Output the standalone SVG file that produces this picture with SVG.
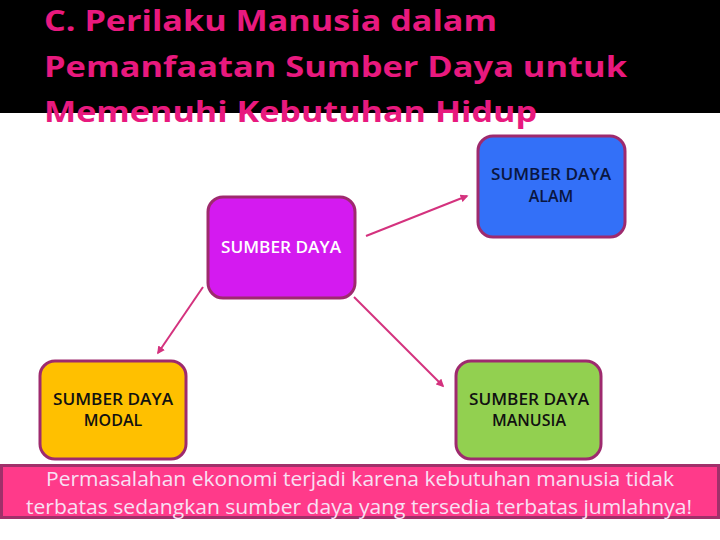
<svg xmlns="http://www.w3.org/2000/svg" width="720" height="540" viewBox="0 0 720 540">
<style>
.title{font-family:"Open Sans","Liberation Sans",sans-serif;font-weight:bold;font-size:29px;fill:#E8197E}
.node rect{stroke:#9E2A6E;stroke-width:3}
.lbl{font-family:"Open Sans","Liberation Sans",sans-serif;font-weight:600;font-size:16px;text-anchor:middle}
.conn line{stroke:#D4327E;stroke-width:2;marker-end:url(#ah)}
.band{font-family:"Open Sans","Liberation Sans",sans-serif;font-size:20px;fill:#F8E0F4;text-anchor:middle}
</style>
<defs>
<marker id="ah" viewBox="0 0 10 10" refX="8" refY="5" markerWidth="4" markerHeight="4" orient="auto">
<path d="M0,0 L10,5 L0,10 z" fill="#D4327E"/>
</marker>
</defs>
<rect x="0" y="0" width="720" height="540" fill="#FFFFFF"/>
<rect x="0" y="0" width="720" height="113" fill="#000000"/>
<g id="title">
<text class="title" x="44" y="31" textLength="453" lengthAdjust="spacingAndGlyphs">C. Perilaku Manusia dalam</text>
<text class="title" x="44" y="77" textLength="583" lengthAdjust="spacingAndGlyphs">Pemanfaatan Sumber Daya untuk</text>
<text class="title" x="44" y="122" textLength="493" lengthAdjust="spacingAndGlyphs">Memenuhi Kebutuhan Hidup</text>
</g>
<g id="connectors" class="conn">
<line x1="366" y1="236" x2="467" y2="196"/>
<line x1="203" y1="287" x2="158" y2="353"/>
<line x1="354" y1="297" x2="443" y2="386"/>
</g>
<g id="sumber-daya" class="node">
<rect x="208" y="197" width="147" height="101" rx="15" fill="#D41AF0"/>
<text class="lbl" x="281" y="253" fill="#FFFFFF" textLength="120" lengthAdjust="spacingAndGlyphs">SUMBER DAYA</text>
</g>
<g id="sda" class="node">
<rect x="478" y="136" width="147" height="101" rx="15" fill="#3370F8"/>
<text class="lbl" x="551" y="180" fill="#0A1640" textLength="120" lengthAdjust="spacingAndGlyphs">SUMBER DAYA</text>
<text class="lbl" x="551" y="202" fill="#0A1640">ALAM</text>
</g>
<g id="sdmodal" class="node">
<rect x="40" y="361" width="146" height="98" rx="15" fill="#FFC000"/>
<text class="lbl" x="113" y="405" fill="#111111" textLength="120" lengthAdjust="spacingAndGlyphs">SUMBER DAYA</text>
<text class="lbl" x="113" y="426" fill="#111111">MODAL</text>
</g>
<g id="sdm" class="node">
<rect x="456" y="361" width="145" height="98" rx="15" fill="#92D050"/>
<text class="lbl" x="529" y="405" fill="#111111" textLength="120" lengthAdjust="spacingAndGlyphs">SUMBER DAYA</text>
<text class="lbl" x="529" y="426" fill="#111111">MANUSIA</text>
</g>
<g id="note">
<rect x="1.5" y="465.5" width="717" height="52" fill="#FF3A8A" stroke="#A0306A" stroke-width="3"/>
<text class="band" x="360" y="486" textLength="628" lengthAdjust="spacingAndGlyphs">Permasalahan ekonomi terjadi karena kebutuhan manusia tidak</text>
<text class="band" x="359" y="514" textLength="666" lengthAdjust="spacingAndGlyphs">terbatas sedangkan sumber daya yang tersedia terbatas jumlahnya!</text>
</g>
</svg>
